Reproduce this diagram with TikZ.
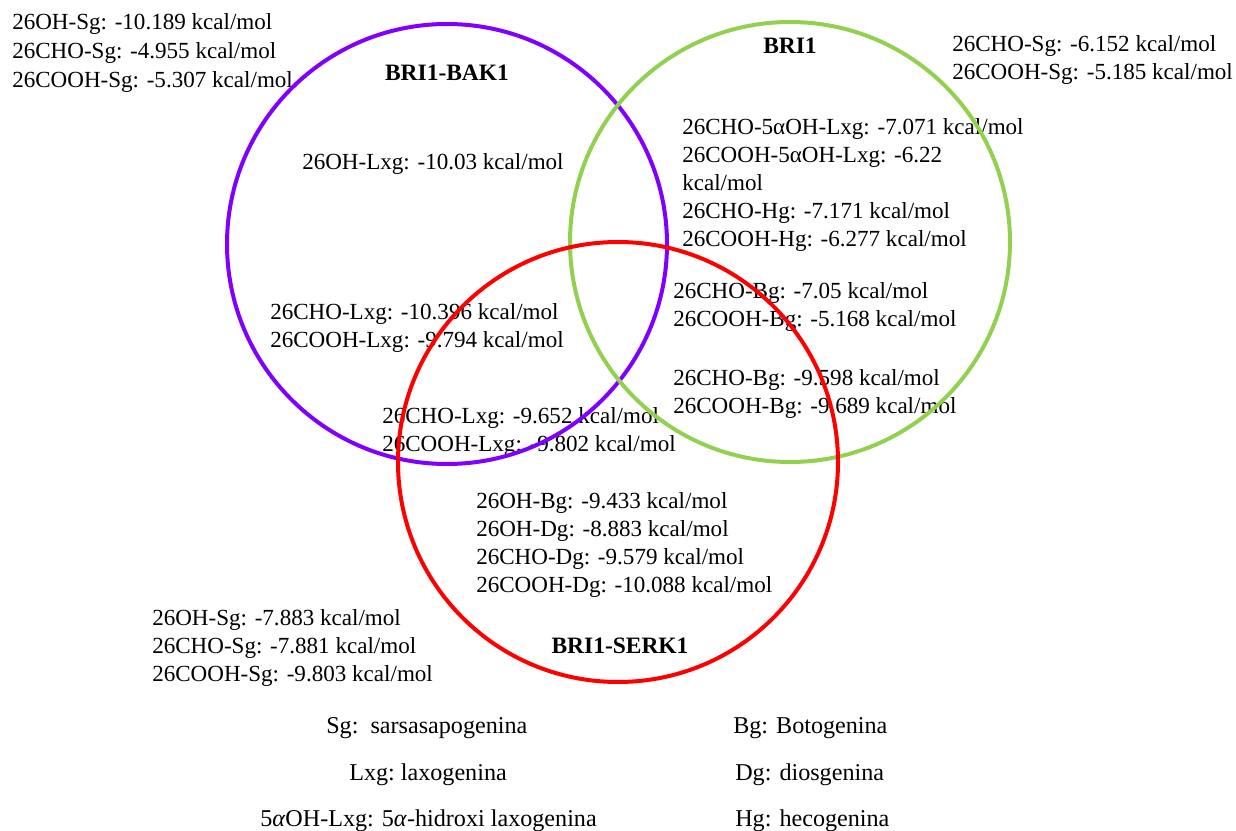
\documentclass[tikz,border=0pt]{standalone}
\usepackage{fontspec}
\setmainfont{Liberation Serif}
\definecolor{cpurple}{RGB}{128,0,255}
\definecolor{cgreen}{RGB}{146,208,80}
\definecolor{cred}{RGB}{255,0,0}
\begin{document}
\begin{tikzpicture}[x=0.75pt,y=-0.75pt,
  lbl/.style={anchor=base west,inner sep=0pt,font=\fontsize{17.3}{21}\selectfont},
  ttl/.style={anchor=base,inner sep=0pt,font=\fontsize{17.6}{21}\selectfont\bfseries},
  leg/.style={anchor=base west,inner sep=0pt,font=\fontsize{18.1}{21}\selectfont},
  ring/.style={line width=3pt}]
\useasboundingbox (0,0) rectangle (1236,831);
% top-left
\node[lbl] (tl1) at (12,29.5) {26OH-Sg: -10.189 kcal/mol};
\node[lbl] (tl2) at (12,58.5) {26CHO-Sg: -4.955 kcal/mol};
\node[lbl] (tl3) at (12,87.5) {26COOH-Sg: -5.307 kcal/mol};
% top-right
\node[lbl] (tr1) at (952,51.5) {26CHO-Sg: -6.152 kcal/mol};
\node[lbl] (tr2) at (952,79.5) {26COOH-Sg: -5.185 kcal/mol};
% titles
\node[ttl] (t1) at (447,81) {BRI1-BAK1};
\node[ttl] (t2) at (790,54) {BRI1};
\node[ttl] (t3) at (620,653) {BRI1-SERK1};
% purple only
\node[lbl] (p1) at (302,169.5) {26OH-Lxg: -10.03 kcal/mol};
% green only
\node[lbl] (g1) at (682,134.5) {26CHO-5αOH-Lxg: -7.071 kcal/mol};
\node[lbl] (g2) at (682,162.5) {26COOH-5αOH-Lxg: -6.22};
\node[lbl] (g3) at (682,190.5) {kcal/mol};
\node[lbl] (g4) at (682,218.5) {26CHO-Hg: -7.171 kcal/mol};
\node[lbl] (g5) at (682,246.5) {26COOH-Hg: -6.277 kcal/mol};
% green/red
\node[lbl] (b1) at (673,298.5) {26CHO-Bg: -7.05 kcal/mol};
\node[lbl] (b2) at (673,326.5) {26COOH-Bg: -5.168 kcal/mol};
\node[lbl] (b3) at (673,385.5) {26CHO-Bg: -9.598 kcal/mol};
\node[lbl] (b4) at (673,413.5) {26COOH-Bg: -9.689 kcal/mol};
% purple/red
\node[lbl] (l1) at (270,319.5) {26CHO-Lxg: -10.396 kcal/mol};
\node[lbl] (l2) at (270,347.5) {26COOH-Lxg: -9.794 kcal/mol};
\node[lbl] (l3) at (382,423.5) {26CHO-Lxg: -9.652 kcal/mol};
\node[lbl] (l4) at (382,451.5) {26COOH-Lxg: -9.802 kcal/mol};
% red only
\node[lbl] (r1) at (476,508.5) {26OH-Bg: -9.433 kcal/mol};
\node[lbl] (r2) at (476,536.5) {26OH-Dg: -8.883 kcal/mol};
\node[lbl] (r3) at (476,564.5) {26CHO-Dg: -9.579 kcal/mol};
\node[lbl] (r4) at (476,592.5) {26COOH-Dg: -10.088 kcal/mol};
% bottom-left
\node[lbl] (bl1) at (152,625.5) {26OH-Sg: -7.883 kcal/mol};
\node[lbl] (bl2) at (152,653.5) {26CHO-Sg: -7.881 kcal/mol};
\node[lbl] (bl3) at (152,681.5) {26COOH-Sg: -9.803 kcal/mol};
% legend
\node[leg] (lg1) at (326,733.5) {Sg:\ \ sarsasapogenina};
\node[leg] (lg2) at (349,780.5) {Lxg:\ laxogenina};
\node[leg] (lg3) at (260,826.5) {5\textit{α}OH-Lxg: 5\textit{α}-hidroxi laxogenina};
\node[leg] (lg4) at (733,733.5) {Bg: Botogenina};
\node[leg] (lg5) at (735,780.5) {Dg: diosgenina};
\node[leg] (lg6) at (735,826.5) {Hg: hecogenina};
% circles
\draw[ring,cpurple] (447,244) circle[radius=165pt];
\draw[ring,cgreen] (790,242) circle[radius=165pt];
\draw[ring,cred] (618,462) circle[radius=165pt];
\end{tikzpicture}
\end{document}
